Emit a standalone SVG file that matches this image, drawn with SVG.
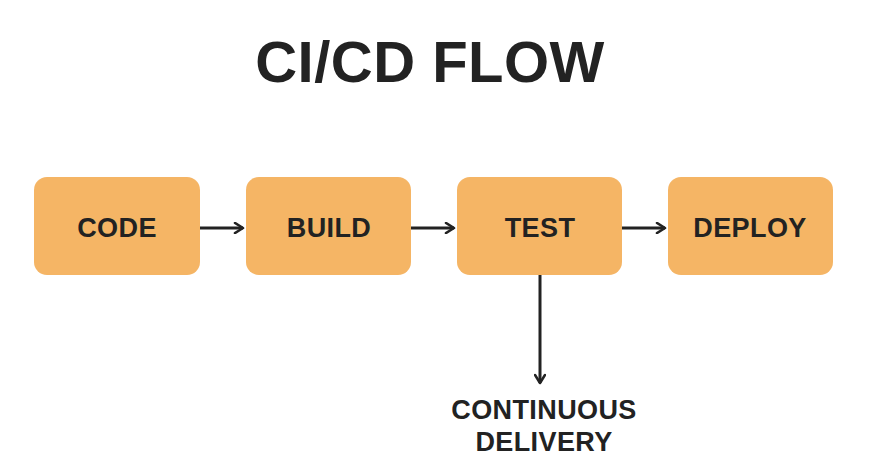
<svg xmlns="http://www.w3.org/2000/svg" width="877" height="468" viewBox="0 0 877 468">
<style>
.box{fill:#F5B565;}
.lbl{font-family:"Liberation Sans",Arial,sans-serif;font-weight:bold;font-size:27px;letter-spacing:0.4px;fill:#222;text-anchor:middle;}
.title{font-family:"Liberation Sans",Arial,sans-serif;font-weight:bold;font-size:58px;letter-spacing:0.5px;fill:#222;text-anchor:middle;}
.edge{stroke:#222;stroke-width:3;fill:none;}
</style>
<defs>
<marker id="ah" viewBox="0 0 12 12" refX="10" refY="6" markerWidth="12" markerHeight="12" markerUnits="userSpaceOnUse" orient="auto">
<path d="M2,1 L10,6 L2,11" fill="none" stroke="#222" stroke-width="2.6" stroke-linecap="round" stroke-linejoin="round"/>
</marker>
</defs>
<rect width="877" height="468" fill="#fff"/>
<text class="title" x="430" y="82">CI/CD FLOW</text>
<g id="code"><rect class="box" x="34" y="177" width="166" height="98" rx="13"/><text class="lbl" x="117" y="237">CODE</text></g>
<g id="build"><rect class="box" x="246" y="177" width="165" height="98" rx="13"/><text class="lbl" x="329" y="237">BUILD</text></g>
<g id="test"><rect class="box" x="457" y="177" width="165" height="98" rx="13"/><text class="lbl" x="540" y="237">TEST</text></g>
<g id="deploy"><rect class="box" x="668" y="177" width="165" height="98" rx="13"/><text class="lbl" x="750" y="237">DEPLOY</text></g>
<g id="cd"><text class="lbl" x="544" y="419">CONTINUOUS</text><text class="lbl" x="544" y="451">DELIVERY</text></g>
<g id="connectors">
<line class="edge" x1="200" y1="228" x2="243" y2="228" marker-end="url(#ah)"/>
<line class="edge" x1="411" y1="228" x2="454" y2="228" marker-end="url(#ah)"/>
<line class="edge" x1="622" y1="228" x2="665" y2="228" marker-end="url(#ah)"/>
<line class="edge" x1="540" y1="275" x2="540" y2="383" marker-end="url(#ah)"/>
</g>
</svg>
